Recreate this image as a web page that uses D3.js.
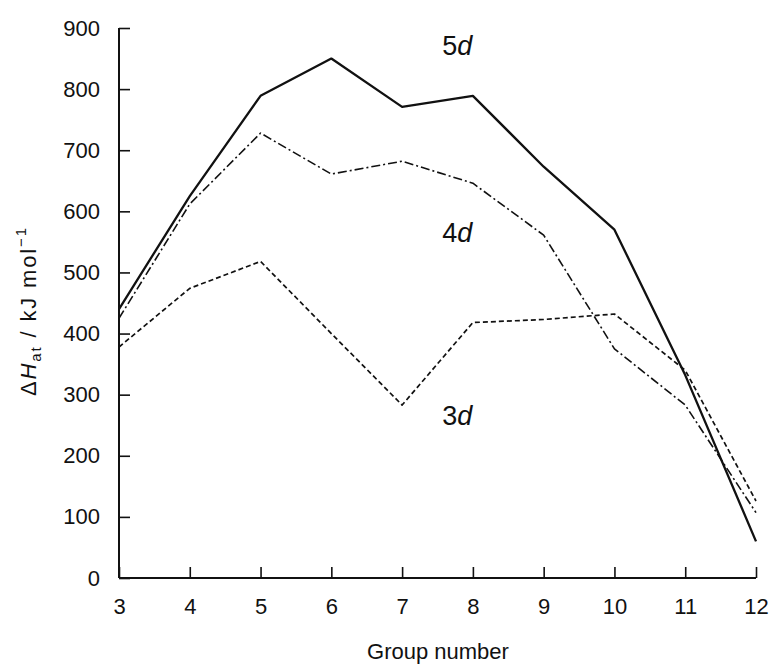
<!DOCTYPE html>
<html><head><meta charset="utf-8">
<script src="https://cdn.jsdelivr.net/npm/d3@7"></script>
<style>body{margin:0;background:#fff}svg{display:block}text{font-family:"Liberation Sans",Arial,sans-serif;fill:#111}</style>
</head><body><svg id="c" width="769" height="666"></svg>
<script>
const groups = [3,4,5,6,7,8,9,10,11,12];
const yTicks = [0,100,200,300,400,500,600,700,800,900];
const series3d = [378,474,518,400,283,418,423,432,340,126];
const series4d = [425,612,728,661,682,646,561,375,283,107];
const series5d = [440,625,789,850,771,789,673,570,332,60];
const seriesNames = ["3d","4d","5d"];
const labelPos = [{g:7.78,v:250},{g:7.78,v:550},{g:7.78,v:856}];

const svg = d3.select("#c");
const x = d3.scaleLinear().domain([3,12]).range([119,756]);
const y = d3.scaleLinear().domain([0,900]).range([578,28]);
const ink = "#111";

// axes
const gx = svg.append("g").attr("transform","translate(0,578)")
  .call(d3.axisBottom(x).tickValues(groups).tickSize(-11).tickPadding(20).tickFormat(d3.format("d")));
const gy = svg.append("g").attr("transform","translate(119,0)")
  .call(d3.axisLeft(y).tickValues(yTicks).tickSize(-11).tickPadding(19));
[gx,gy].forEach(g=>{
  g.select(".domain").attr("stroke",ink).attr("stroke-width",2);
  g.selectAll(".tick line").attr("stroke",ink).attr("stroke-width",1.6);
  g.selectAll(".tick text").attr("font-size",22).attr("fill",ink).style("font-family","Liberation Sans, Arial, sans-serif");
});
gy.select(".domain").attr("d","M0,578V28");
gx.select(".domain").attr("d","M119,0H756");

// lines
const line = d3.line().x((d,i)=>x(groups[i])).y(d=>y(d));
const styles = [
  {data:series3d, dash:"5,3", w:1.7},
  {data:series4d, dash:"9,3,2,3", w:1.6},
  {data:series5d, dash:null, w:2.3}
];
styles.forEach(s=>{
  svg.append("path").datum(s.data).attr("d",line)
    .attr("fill","none").attr("stroke",ink).attr("stroke-width",s.w)
    .attr("stroke-linejoin","round")
    .attr("stroke-dasharray",s.dash);
});

// series labels
seriesNames.forEach((n,i)=>{
  const t = svg.append("text").attr("x",x(labelPos[i].g)).attr("y",y(labelPos[i].v))
    .attr("text-anchor","middle").attr("font-size",27);
  t.append("tspan").text(n[0]);
  t.append("tspan").attr("font-style","italic").text(n.slice(1));
});

// axis titles
svg.append("text").attr("x",438).attr("y",659).attr("text-anchor","middle")
  .attr("font-size",22).text("Group number");
const yt = svg.append("text").attr("transform","translate(36,312) rotate(-90)")
  .attr("text-anchor","middle").attr("font-size",22)
  .attr("textLength",168).attr("lengthAdjust","spacing");
yt.append("tspan").text("Δ");
yt.append("tspan").attr("font-style","italic").text("H");
yt.append("tspan").attr("font-size",15).attr("dy",5).text("at");
yt.append("tspan").attr("dy",-5).text(" / kJ mol");
yt.append("tspan").attr("font-size",15).attr("dy",-10).text("−1");
</script></body></html>
